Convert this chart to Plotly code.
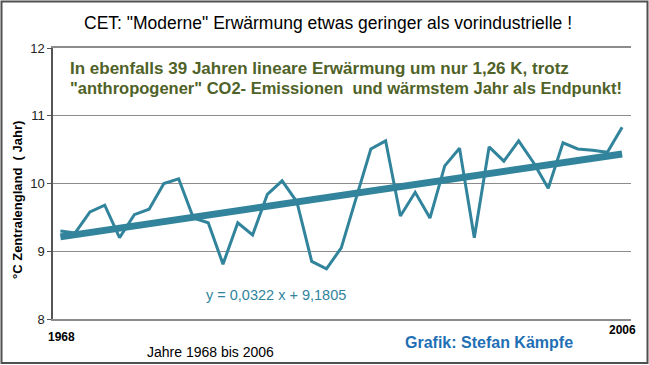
import plotly.graph_objects as go

years = list(range(1968, 2007))
temps = [9.30, 9.27, 9.58, 9.68, 9.20, 9.54, 9.62, 10.00, 10.07, 9.49,
         9.42, 8.81, 9.42, 9.24, 9.84, 10.04, 9.73, 8.85, 8.74, 9.05,
         9.78, 10.51, 10.63, 9.52, 9.87, 9.49, 10.26, 10.52, 9.20, 10.54,
         10.33, 10.63, 10.31, 9.93, 10.60, 10.51, 10.49, 10.46, 10.83]
slope = 0.0322
intercept = 9.1805
trend = [slope * (i + 1) + intercept for i in range(len(years))]

title_text = 'CET: "Moderne" Erwärmung etwas geringer als vorindustrielle !'
sub_line1 = 'In ebenfalls 39 Jahren lineare Erwärmung um nur 1,26 K, trotz'
sub_line2 = '"anthropogener" CO2- Emissionen  und wärmstem Jahr als Endpunkt!'
eq_text = 'y = 0,0322 x + 9,1805'
ytitle = '°C Zentralengland  ( Jahr)'
xlabel = 'Jahre 1968 bis 2006'
credit = 'Grafik: Stefan Kämpfe'

W, H = 649, 365
L, R, T, B = 53, 18, 48, 46
pw, ph = W - L - R, H - T - B

def px(x):
    return (x - L) / pw

def py(y):
    return (H - B - y) / ph

teal = '#31849b'
sans = 'Liberation Sans, Arial, sans-serif'
fig = go.Figure()
fig.add_trace(go.Scatter(x=years, y=temps, mode='lines',
                         line=dict(color=teal, width=3), hoverinfo='skip'))
fig.add_trace(go.Scatter(x=years, y=trend, mode='lines',
                         line=dict(color=teal, width=7), hoverinfo='skip'))

fig.update_layout(
    width=W, height=H, autosize=False,
    margin=dict(l=L, r=R, t=T, b=B),
    paper_bgcolor='white', plot_bgcolor='white',
    showlegend=False,
    font=dict(family=sans, color='black'),
    xaxis=dict(range=[1967.5, 2006.6], showticklabels=False, showgrid=False,
               zeroline=False, showline=True, linecolor='#8c8c8c', linewidth=1.5,
               mirror=True, ticks=''),
    yaxis=dict(range=[8, 12], tickvals=[8, 9, 10, 11, 12], ticks='outside',
               ticklen=4, tickcolor='#555', showgrid=True, gridcolor='#8c8c8c',
               gridwidth=1.2, zeroline=False, showline=True, linecolor='#555',
               linewidth=1.5, tickfont=dict(size=13, color='#222', family=sans)),
)

fig.add_annotation(x=px(17), y=py(200), xref='paper', yref='paper', text='<b>' + ytitle + '</b>',
                   textangle=-90, showarrow=False,
                   font=dict(size=13, color='black', family=sans),
                   xanchor='center', yanchor='middle')
fig.add_annotation(x=px(328), y=py(23), xref='paper', yref='paper', text=title_text,
                   showarrow=False, font=dict(size=17.5, color='black', family=sans),
                   xanchor='center', yanchor='middle')
fig.add_annotation(x=px(68), y=py(68), xref='paper', yref='paper',
                   text='<b>' + sub_line1 + '</b>', showarrow=False,
                   font=dict(size=17, color='#4f6228', family=sans),
                   xanchor='left', yanchor='middle')
fig.add_annotation(x=px(68), y=py(88), xref='paper', yref='paper',
                   text='<b>' + sub_line2 + '</b>', showarrow=False,
                   font=dict(size=16.5, color='#4f6228', family=sans),
                   xanchor='left', yanchor='middle')
fig.add_annotation(x=px(276), y=py(295), xref='paper', yref='paper', text=eq_text,
                   showarrow=False, font=dict(size=14.5, color=teal, family=sans),
                   xanchor='center', yanchor='middle')
fig.add_annotation(x=px(61), y=py(337), xref='paper', yref='paper', text='<b>1968</b>',
                   showarrow=False, font=dict(size=12, color='black', family=sans),
                   xanchor='center', yanchor='middle')
fig.add_annotation(x=px(622), y=py(330), xref='paper', yref='paper', text='<b>2006</b>',
                   showarrow=False, font=dict(size=12, color='black', family=sans),
                   xanchor='center', yanchor='middle')
fig.add_annotation(x=px(210), y=py(352), xref='paper', yref='paper', text=xlabel,
                   showarrow=False, font=dict(size=14, color='black', family=sans),
                   xanchor='center', yanchor='middle')
fig.add_annotation(x=px(489), y=py(342), xref='paper', yref='paper', text='<b>' + credit + '</b>',
                   showarrow=False, font=dict(size=16, color='#1f6fb5', family=sans),
                   xanchor='center', yanchor='middle')

fig.add_shape(type='rect', xref='paper', yref='paper',
              x0=px(1.5), x1=px(W - 1.5), y0=py(H - 2), y1=py(1.5),
              line=dict(color='#505050', width=2), fillcolor='rgba(0,0,0,0)', layer='above')

fig.write_html('out.html', config={'displayModeBar': False},
               post_script="document.body.style.margin='0px';document.body.style.overflow='hidden';")
